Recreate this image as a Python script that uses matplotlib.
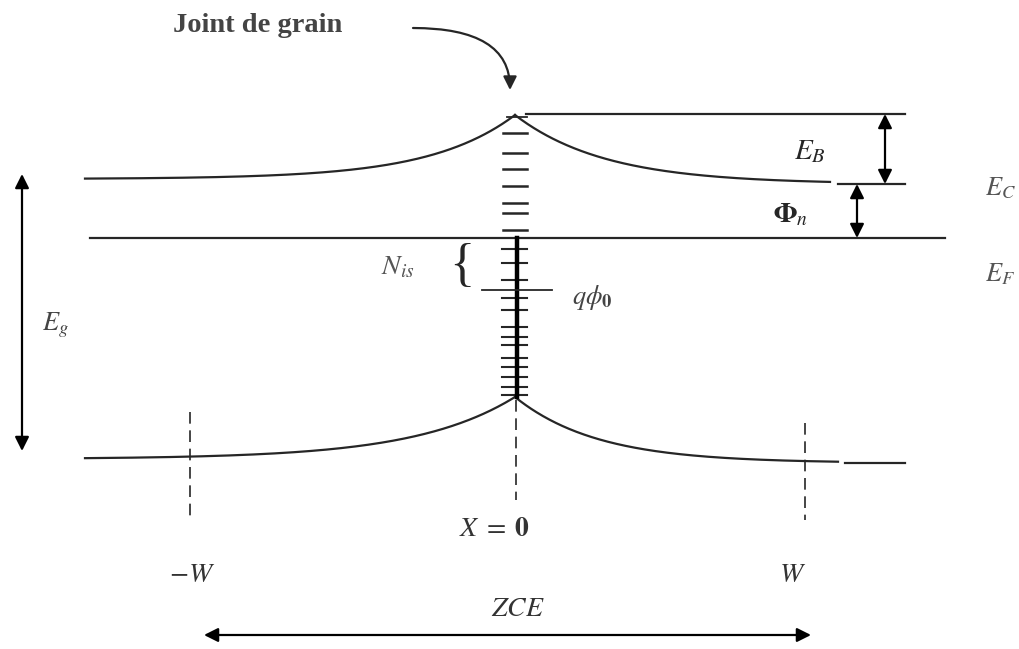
import numpy as np
import matplotlib.pyplot as plt
from matplotlib.patches import FancyArrowPatch

plt.rcParams['mathtext.fontset'] = 'stix'
plt.rcParams['font.family'] = ['Liberation Serif', 'DejaVu Serif']

# diagram coordinates in picture pixels (y grows downwards)
x_gb = 515                 # grain boundary position
x_left, x_right = 85, 905
ec_flat = [179, 184]       # conduction band far from the boundary (left, right)
ec_peak = 115
ev_flat = [459, 463]       # valence band (left, right)
ev_peak = 397
decay_c = [85, 90]
decay_v = [100, 82]
ef_level = 238
ef_span = [90, 945]
top_level = 114
w_pos = [190, 805]         # -W and W
states_up = [133, 153, 169, 186, 203, 213, 230]       # empty interface states
states_down = [249, 263, 280, 298, 310, 327, 337, 345, 358, 367, 377, 387, 395]
q_phi0 = 290

col = '#262626'


def band(x, flat, peak, L):
    return flat - (flat - peak) * np.exp(-np.abs(x - x_gb) / L)


fig = plt.figure(figsize=(10.19, 6.49), dpi=100)
ax = fig.add_axes([0, 0, 1, 1])
ax.set_xlim(0, 1019)
ax.set_ylim(649, 0)
ax.axis('off')

# conduction band
xl = np.linspace(x_left, x_gb, 300)
ax.plot(xl, band(xl, ec_flat[0], ec_peak, decay_c[0]), color=col, lw=1.6)
xr = np.linspace(x_gb, 830, 300)
ax.plot(xr, band(xr, ec_flat[1], ec_peak, decay_c[1]), color=col, lw=1.6)
ax.plot([838, x_right], [ec_flat[1], ec_flat[1]], color=col, lw=1.6)

# valence band
xl = np.linspace(x_left, x_gb, 300)
ax.plot(xl, band(xl, ev_flat[0], ev_peak, decay_v[0]), color=col, lw=1.6)
xr = np.linspace(x_gb, 838, 300)
ax.plot(xr, band(xr, ev_flat[1], ev_peak, decay_v[1]), color=col, lw=1.6)
ax.plot([845, x_right], [ev_flat[1], ev_flat[1]], color=col, lw=1.6)

# Fermi level and barrier top
ax.plot(ef_span, [ef_level, ef_level], color=col, lw=1.6)
ax.plot([526, x_right], [top_level, top_level], color=col, lw=1.6)
ax.plot([507, 527], [top_level + 3, top_level + 3], color=col, lw=1.3)

# interface states
for y in states_up:
    ax.plot([503, 527], [y, y], color=col, lw=1.8)
for y in states_down:
    ax.plot([502, 527], [y, y], color=col, lw=1.5)
ax.plot([x_gb + 2, x_gb + 2], [ef_level, ev_peak], color='black', lw=3.2)
ax.plot([482, 552], [q_phi0, q_phi0], color=col, lw=1.3)

# dashed verticals
ls = (0, (7, 4))
ax.plot([w_pos[0], w_pos[0]], [412, 520], color=col, lw=1.2, linestyle=ls)
ax.plot([x_gb + 1, x_gb + 1], [ev_peak + 3, 500], color=col, lw=1.2, linestyle=ls)
ax.plot([w_pos[1], w_pos[1]], [423, 520], color=col, lw=1.2, linestyle=ls)

# double arrows
def darrow(p0, p1):
    ax.annotate('', xy=p1, xytext=p0,
                arrowprops=dict(arrowstyle='<|-|>', mutation_scale=21, lw=1.6,
                                color='black', shrinkA=0, shrinkB=0))

darrow((22, 174), (22, 451))
darrow((885, top_level), (885, ec_flat[1]))
darrow((857, ec_flat[1]), (857, ef_level))
darrow((204, 635), (811, 635))

# curved arrow to the grain boundary
ax.add_patch(FancyArrowPatch((413, 28), (510, 90),
                             connectionstyle='angle3,angleA=0,angleB=90',
                             arrowstyle='-|>', mutation_scale=20, lw=1.6,
                             color=col, shrinkA=0, shrinkB=0))

# labels
ax.text(258, 25, 'Joint de grain', fontsize=20.5, fontweight='bold', color='#444444',
        ha='center', va='center')
ax.text(810, 152, r'$E_B$', fontsize=21, ha='center', va='center', color=col)
ax.text(790, 215, r'$\mathbf{\Phi}_n$', fontsize=20, ha='center', va='center', color=col)
ax.text(1000, 188, r'$E_C$', fontsize=19, ha='center', va='center', color='#555555')
ax.text(1000, 274, r'$E_F$', fontsize=19, ha='center', va='center', color='#555555')
ax.text(55, 325, r'$E_g$', fontsize=19, ha='center', va='center', color='#444444')
ax.text(398, 268, r'$N_{is}$', fontsize=20, ha='center', va='center', color='#555555')
ax.text(462, 267, '{', fontsize=38, ha='center', va='center', color=col)
ax.text(592, 298, r'$q\phi_\mathbf{0}$', fontsize=19, ha='center', va='center', color='#444444')
ax.text(495, 530, r'$X\;=\;\mathbf{0}$', fontsize=20, ha='center', va='center', color='#333333')
ax.text(192, 575, r'$-W$', fontsize=20, ha='center', va='center', color='#333333')
ax.text(793, 575, r'$W$', fontsize=20, ha='center', va='center', color='#333333')
ax.text(518, 610, r'$ZCE$', fontsize=20, ha='center', va='center', color='#333333')

fig.savefig('out.png', dpi=100)
